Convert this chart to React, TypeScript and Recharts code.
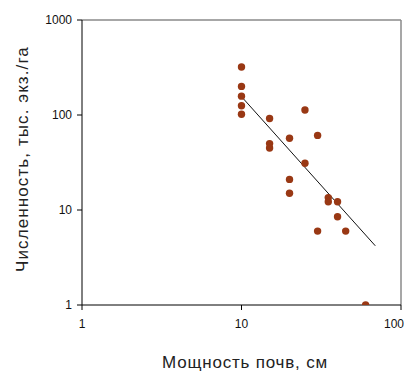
import { ComposedChart, Scatter, XAxis, YAxis, ReferenceLine, Label } from 'recharts';

type Pt = { x: number; y: number };

// soil depth (cm) and density (thousand per ha)
const depth = [10, 10, 10, 10, 10, 15, 15, 15, 20, 20, 20, 25, 25, 30, 30, 35, 35, 40, 40, 45, 60];
const density = [320, 200, 158, 125, 102, 92, 50, 45, 57, 21, 15, 113, 31, 61, 6, 13.5, 12.2, 12.2, 8.5, 6, 1];

// trend line end points
const trendX = [10, 69];
const trendY = [156, 4.2];

const xTicks = [1, 10, 100];
const yTicks = [1, 10, 100, 1000];

const points: Pt[] = depth.map((d, i) => ({ x: d, y: density[i] }));
const trend: Pt[] = trendX.map((d, i) => ({ x: d, y: trendY[i] }));

const FONT = '"Liberation Sans", Arial, sans-serif';

const Dot = (props: any) => (
  <circle cx={props.cx} cy={props.cy} r={3.7} fill="#993814" />
);

// last label would run past the page edge, so it is right-aligned
const XTick = (p: any) => {
  const last = p.payload.value === xTicks[xTicks.length - 1];
  return (
    <text
      x={last ? p.x + 3 : p.x}
      y={p.y + 18}
      textAnchor={last ? 'end' : 'middle'}
      fontSize={12}
      fill="#111"
      fontFamily={FONT}
    >
      {p.payload.value}
    </text>
  );
};

export default function App() {
  return (
    <ComposedChart
      width={396}
      height={364}
      margin={{ top: 12, right: 3, bottom: 0, left: 26 }}
      style={{ fontFamily: FONT }}
    >
      <XAxis
        dataKey="x"
        type="number"
        scale="log"
        domain={[1, 100]}
        ticks={xTicks}
        interval={0}
        allowDataOverflow
        height={67}
        stroke="#000"
        tickSize={5}
        tickMargin={0}
        tick={XTick}
      >
        <Label
          content={() => (
            <text x={237} y={360} textAnchor="middle" fontSize={17} letterSpacing={0.8} fill="#222" fontFamily={FONT}>
              Мощность почв, см
            </text>
          )}
        />
      </XAxis>
      <YAxis
        dataKey="y"
        type="number"
        scale="log"
        domain={[1, 1000]}
        ticks={yTicks}
        interval={0}
        allowDataOverflow
        width={48}
        stroke="#000"
        tickSize={5}
        tickMargin={5}
        tick={{ fill: '#111', fontSize: 12 }}
      >
        <Label
          content={() => (
            <text
              x={20}
              y={151}
              transform="rotate(-90 20 151)"
              textAnchor="middle"
              fontSize={17}
              letterSpacing={1.1}
              fill="#222"
              fontFamily={FONT}
            >
              Численность, тыс. экз./га
            </text>
          )}
        />
      </YAxis>
      <ReferenceLine y={1000} stroke="#8a8a8a" strokeWidth={1.5} />
      <ReferenceLine x={100} stroke="#8a8a8a" strokeWidth={1.5} />
      <Scatter
        data={trend}
        line={{ stroke: '#111', strokeWidth: 1 }}
        shape={() => <g />}
        isAnimationActive={false}
      />
      <Scatter data={points} shape={Dot} isAnimationActive={false} />
    </ComposedChart>
  );
}
